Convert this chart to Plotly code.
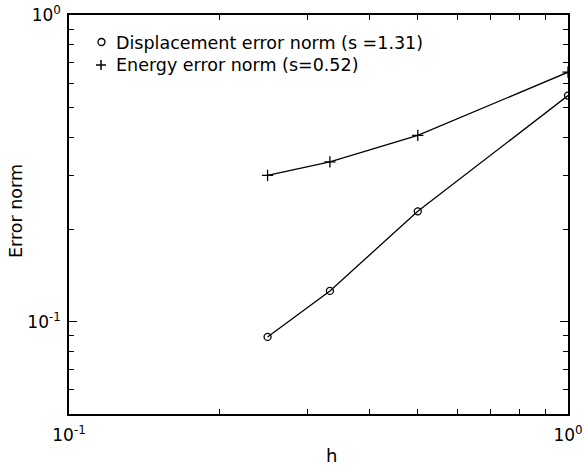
import plotly.graph_objects as go

# mesh size h and the two error norms
h = [0.25, 1/3, 0.5, 1.0]
disp_err = [0.0892, 0.126, 0.229, 0.546]
energy_err = [0.300, 0.332, 0.405, 0.651]

disp_name = "Displacement error norm (s =1.31)"
energy_name = "Energy error norm (s=0.52)"

x_tickvals = [0.1, 1.0]
x_ticktext = ["10<sup>-1</sup>", "10<sup>0</sup>"]
y_tickvals = [0.1, 1.0]
y_ticktext = ["10<sup>-1</sup>", "10<sup>0</sup>"]

FONT = "DejaVu Sans, Liberation Sans, Arial, sans-serif"

W, H = 583, 468
ML, MR, MT, MB = 69, 15, 15, 54
PW, PH = W - ML - MR, H - MT - MB


def px(xp):
    """pixel column -> paper x"""
    return (xp - ML) / PW


def py(yp):
    """pixel row -> paper y"""
    return (H - MB - yp) / PH


fig = go.Figure()

fig.add_trace(go.Scatter(
    x=h, y=disp_err, mode="lines+markers", name=disp_name, showlegend=False,
    line=dict(color="black", width=1.3),
    marker=dict(symbol="circle-open", size=7, color="black", line=dict(width=1.3)),
))
fig.add_trace(go.Scatter(
    x=h, y=energy_err, mode="lines+markers", name=energy_name, showlegend=False,
    line=dict(color="black", width=1.3),
    marker=dict(symbol="cross-thin-open", size=8, color="black", line=dict(width=1.3)),
))

axis_common = dict(
    type="log", showgrid=False, zeroline=False, automargin=False,
    showline=True, linecolor="black", linewidth=1.5, mirror="ticks",
    ticks="inside", ticklen=8, tickwidth=1.2, tickcolor="black",
    minor=dict(ticks="inside", ticklen=5, tickwidth=1, tickcolor="black", dtick="D1"),
    tickfont=dict(family=FONT, size=17, color="black"),
)

fig.update_xaxes(**axis_common, range=[-1, 0], tickvals=x_tickvals, ticktext=x_ticktext,
                 ticklabelstandoff=5)
fig.update_yaxes(**axis_common, range=[-1.301, 0], tickvals=y_tickvals, ticktext=y_ticktext,
                 ticklabelstandoff=3)

# legend: symbol drawn as shapes, label as text
legend_font = dict(family=FONT, size=17.5, color="black")
shapes = [
    dict(type="circle", xref="paper", yref="paper",
         x0=px(98), x1=px(105), y0=py(38.5), y1=py(45.5),
         line=dict(color="black", width=1.3)),
    dict(type="line", xref="paper", yref="paper",
         x0=px(96), x1=px(106), y0=py(65), y1=py(65),
         line=dict(color="black", width=1.5)),
    dict(type="line", xref="paper", yref="paper",
         x0=px(101), x1=px(101), y0=py(60), y1=py(70),
         line=dict(color="black", width=1.5)),
]
annotations = [
    dict(text=disp_name, x=px(114), y=py(43), xref="paper", yref="paper",
         xanchor="left", yanchor="middle", showarrow=False, font=legend_font),
    dict(text=energy_name, x=px(114), y=py(65), xref="paper", yref="paper",
         xanchor="left", yanchor="middle", showarrow=False, font=legend_font),
    dict(text="h", x=px(331), y=py(455), xref="paper", yref="paper",
         xanchor="center", yanchor="middle", showarrow=False,
         font=dict(family=FONT, size=18, color="black")),
    dict(text="Error norm", x=px(16), y=py(211), xref="paper", yref="paper",
         xanchor="center", yanchor="middle", showarrow=False, textangle=-90,
         font=dict(family=FONT, size=17.5, color="black")),
]

fig.update_layout(
    width=W, height=H,
    margin=dict(l=ML, r=MR, t=MT, b=MB),
    paper_bgcolor="white", plot_bgcolor="white",
    font=dict(family=FONT, color="black"),
    showlegend=False,
    shapes=shapes,
    annotations=annotations,
)

fig.write_html("out.html")
